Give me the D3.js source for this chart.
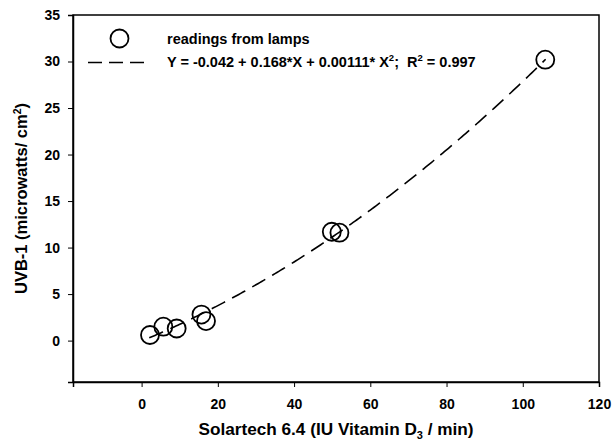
<!DOCTYPE html>
<html>
<head>
<meta charset="utf-8">
<script src="https://cdn.jsdelivr.net/npm/d3@7"></script>
<style>
  body { margin: 0; background: #fff; }
  text { font-family: "Liberation Sans", Arial, sans-serif; font-weight: bold; fill: #000; }
</style>
</head>
<body>
<div id="chart"></div>
<script>
const width = 613, height = 445,
  margin = { top: 15, right: 14, bottom: 63, left: 73 };

// lamp readings
const solartech = [2.2, 5.7, 9.2, 15.7, 16.9, 49.9, 51.9, 105.9];
const uvb = [0.6, 1.5, 1.3, 2.8, 2.1, 11.7, 11.6, 30.2];

// fit coefficients  Y = a + b*X + c*X^2
const coef = [-0.042, 0.168, 0.00111];
const fitRange = [2, 106];

const xTicks = [0, 20, 40, 60, 80, 100, 120];
const yTicks = [0, 5, 10, 15, 20, 25, 30, 35];

const xScale = d3.scaleLinear()
  .domain([-18, 120])
  .range([margin.left, width - margin.right]);

const yScale = d3.scaleLinear()
  .domain([-4.45, 35])
  .range([height - margin.bottom, margin.top]);

const svg = d3.select("#chart").append("svg")
  .attr("width", width)
  .attr("height", height);

// frame
svg.append("rect")
  .attr("x", margin.left)
  .attr("y", margin.top)
  .attr("width", width - margin.left - margin.right)
  .attr("height", height - margin.top - margin.bottom)
  .attr("fill", "none")
  .attr("stroke", "#000")
  .attr("stroke-width", 1.5);

// axes
const xAxis = svg.append("g")
  .attr("transform", `translate(0, ${height - margin.bottom})`)
  .call(d3.axisBottom(xScale).tickValues(xTicks).tickSize(5).tickPadding(12));

const yAxis = svg.append("g")
  .attr("transform", `translate(${margin.left}, 0)`)
  .call(d3.axisLeft(yScale).tickValues(yTicks).tickSize(5).tickPadding(8));

[xAxis, yAxis].forEach(g => {
  g.select(".domain").attr("stroke-width", 1.5);
  g.selectAll(".tick line").attr("stroke-width", 1);
  g.selectAll("text")
    .attr("font-family", "Liberation Sans, Arial, sans-serif")
    .attr("font-weight", "bold")
    .attr("font-size", 14);
});

// fit curve
const fitX = d3.range(fitRange[0], fitRange[1] + 0.5, 0.5);
const line = d3.line()
  .x(d => xScale(d))
  .y(d => yScale(coef[0] + coef[1] * d + coef[2] * d * d));

svg.append("path")
  .datum(fitX)
  .attr("d", line)
  .attr("fill", "none")
  .attr("stroke", "#000")
  .attr("stroke-width", 1.6)
  .attr("stroke-dasharray", "15,8");

// points
svg.selectAll("circle.pt")
  .data(solartech.map((x, i) => ({ x, y: uvb[i] })))
  .join("circle")
  .attr("class", "pt")
  .attr("cx", d => xScale(d.x))
  .attr("cy", d => yScale(d.y))
  .attr("r", 9)
  .attr("fill", "none")
  .attr("stroke", "#000")
  .attr("stroke-width", 1.8);

// legend
svg.append("circle")
  .attr("cx", 119.5).attr("cy", 38.5).attr("r", 9)
  .attr("fill", "none").attr("stroke", "#000").attr("stroke-width", 1.8);
svg.append("text")
  .attr("x", 167).attr("y", 44)
  .attr("font-size", 14.5)
  .text("readings from lamps");

svg.append("line")
  .attr("x1", 88).attr("x2", 144).attr("y1", 62.5).attr("y2", 62.5)
  .attr("stroke", "#000").attr("stroke-width", 1.6)
  .attr("stroke-dasharray", "14,7");

const eq = svg.append("text")
  .attr("x", 167).attr("y", 67)
  .attr("font-size", 14.5);
eq.append("tspan").text("Y = -0.042 + 0.168*X + 0.00111* X");
eq.append("tspan").attr("dy", -6).attr("font-size", 9.5).text("2");
eq.append("tspan").attr("dy", 6).text(";\u00a0\u00a0R");
eq.append("tspan").attr("dy", -6).attr("font-size", 9.5).text("2");
eq.append("tspan").attr("dy", 6).text(" = 0.997");

// axis titles
const xt = svg.append("text")
  .attr("x", (margin.left + width - margin.right) / 2)
  .attr("y", 435)
  .attr("text-anchor", "middle")
  .attr("font-size", 17.2);
xt.append("tspan").text("Solartech 6.4 (IU Vitamin D");
xt.append("tspan").attr("dy", 4).attr("font-size", 11).text("3");
xt.append("tspan").attr("dy", -4).text(" / min)");

const yt = svg.append("text")
  .attr("transform", `translate(27, ${(margin.top + height - margin.bottom) / 2}) rotate(-90)`)
  .attr("text-anchor", "middle")
  .attr("font-size", 16.5);
yt.append("tspan").text("UVB-1 (microwatts/ cm");
yt.append("tspan").attr("dy", -6).attr("font-size", 10.5).text("2");
yt.append("tspan").attr("dy", 6).text(")");
</script>
</body>
</html>
